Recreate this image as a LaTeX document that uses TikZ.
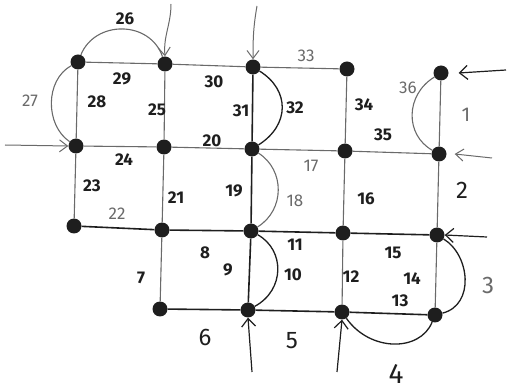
\documentclass[tikz,border=0pt]{standalone}
\usepackage{fontspec}
\setmainfont{Fira Sans}
\usetikzlibrary{arrows.meta}
\definecolor{ink}{HTML}{1E1E1E}
\definecolor{pencil}{HTML}{6A6A6A}
\begin{document}
\begin{tikzpicture}[x=1pt,y=-1pt,
  vtx/.style={circle,fill=ink,inner sep=0pt,minimum size=15pt},
  thick edge/.style={draw=ink,line width=1.6pt},
  thin edge/.style={draw=pencil,line width=1.1pt},
  arc edge/.style={draw=ink,line width=1.3pt},
  inarrow/.style={draw=pencil,line width=1pt,-{Straight Barb[length=8pt,width=12pt]}},
  inarrowk/.style={draw=ink,line width=1.2pt,-{Straight Barb[length=8pt,width=14pt]}},
  lab/.style={font=\fontsize{17}{17}\selectfont\bfseries,text=ink,inner sep=1pt},
  glab/.style={font=\fontsize{17}{17}\selectfont,text=pencil,inner sep=1pt},
  big/.style={font=\fontsize{24}{24}\selectfont}]
\useasboundingbox (0,0) rectangle (507,390);
% vertices
\node[vtx] (a1) at (78,62) {};
\node[vtx] (a2) at (165,64) {};
\node[vtx] (a3) at (253,67) {};
\node[vtx] (a4) at (347,69) {};
\node[vtx] (a5) at (441,73) {};
\node[vtx] (b1) at (76,146) {};
\node[vtx] (b2) at (164,147) {};
\node[vtx] (b3) at (252,149) {};
\node[vtx] (b4) at (345,151) {};
\node[vtx] (b5) at (439,154) {};
\node[vtx] (c1) at (74,226) {};
\node[vtx] (c2) at (162,230) {};
\node[vtx] (c3) at (251,231) {};
\node[vtx] (c4) at (343,233) {};
\node[vtx] (c5) at (437,235) {};
\node[vtx] (d2) at (160,309) {};
\node[vtx] (d3) at (248,310) {};
\node[vtx] (d4) at (342,312) {};
\node[vtx] (d5) at (435,315) {};
% straight edges
\draw[thin edge] (a1) -- (a2);
\draw[thin edge] (a2) -- (a3);
\draw[thin edge] (a3) -- (a4);
\draw[thin edge] (a1) -- (b1);
\draw[thin edge] (a2) -- (b2);
\draw[thick edge] (a3) -- (b3);
\draw[thin edge] (a4) -- (b4);
\draw[thin edge] (a5) -- (b5);
\draw[thin edge] (b1) -- (b2);
\draw[thin edge] (b2) -- (b3);
\draw[thin edge] (b3) -- (b4);
\draw[thin edge] (b4) -- (b5);
\draw[thin edge] (b1) -- (c1);
\draw[thin edge] (b2) -- (c2);
\draw[thick edge] (b3) -- (c3);
\draw[thin edge] (b4) -- (c4);
\draw[thin edge] (b5) -- (c5);
\draw[thick edge] (c1) -- (c2);
\draw[thick edge] (c2) -- (c3);
\draw[thick edge] (c3) -- (c4);
\draw[thick edge] (c4) -- (c5);
\draw[thin edge] (c2) -- (d2);
\draw[thick edge] (c3) -- (d3);
\draw[thin edge] (c4) -- (d4);
\draw[thin edge] (c5) -- (d5);
\draw[thick edge] (d2) -- (d3);
\draw[thick edge] (d3) -- (d4);
\draw[thick edge] (d4) -- (d5);
% arcs
\draw[thin edge] (a1) .. controls (95,20) and (150,20) .. (a2);
\draw[thin edge] (a1) .. controls (45,80) and (45,125) .. (b1);
\draw[arc edge] (a3) .. controls (290,90) and (290,125) .. (b3);
\draw[thin edge] (b3) .. controls (285,170) and (285,210) .. (c3);
\draw[arc edge] (c3) .. controls (285,250) and (285,290) .. (d3);
\draw[thin edge] (a5) .. controls (405,95) and (405,135) .. (b5);
\draw[arc edge] (c5) .. controls (470,255) and (475,305) .. (d5);
\draw[arc edge] (d4) .. controls (370,352) and (420,352) .. (d5);
% input arrows
\coordinate (s1) at (171,4);
\coordinate (s2) at (257,6);
\coordinate (s3) at (506,70);
\coordinate (s4) at (492,158);
\coordinate (s5) at (5,145);
\coordinate (s6) at (487,237);
\coordinate (s7) at (252,372);
\coordinate (s8) at (337,372);
\draw[inarrow] (s1) to[out=-90,in=95] (a2.north);
\draw[inarrow] (s2) to[out=-100,in=90] (a3.north);
\draw[inarrowk] (s3) -- ([xshift=10pt]a5.east);
\draw[inarrow] (s4) -- ([xshift=8pt]b5.east);
\draw[inarrow] (s5) -- (b1.west);
\draw[inarrowk] (s6) -- (c5.east);
\draw[inarrowk] (s7) -- (d3.south);
\draw[inarrowk] (s8) -- (d4.south);
% labels
\node[lab] (l26) at (125,19) {26};
\node[lab] (l29) at (122,79) {29};
\node[lab] (l30) at (214,82) {30};
\node[glab] (l33) at (306,56) {33};
\node[glab] (l27) at (30,101) {27};
\node[lab] (l28) at (97,102) {28};
\node[lab] (l25) at (157,110) {25};
\node[lab] (l31) at (241,111) {31};
\node[lab] (l32) at (295,108) {32};
\node[lab] (l34) at (364,105) {34};
\node[glab] (l36) at (408,88) {36};
\node[lab] (l35) at (383,135) {35};
\node[glab,font=\fontsize{20}{20}\selectfont] (l1) at (466,115) {1};
\node[lab] (l24) at (124,160) {24};
\node[lab] (l20) at (212,141) {20};
\node[glab] (l17) at (311,166) {17};
\node[lab] (l23) at (92,186) {23};
\node[lab] (l21) at (176,198) {21};
\node[lab] (l19) at (234,191) {19};
\node[glab] (l18) at (295,201) {18};
\node[lab] (l16) at (366,199) {16};
\node[lab,font=\fontsize{24}{24}\selectfont] (l2) at (462,190) {2};
\node[glab] (l22) at (117,214) {22};
\node[lab] (l8) at (205,253) {8};
\node[lab] (l9) at (228,270) {9};
\node[lab] (l11) at (295,245) {11};
\node[lab] (l10) at (293,275) {10};
\node[lab] (l12) at (351,277) {12};
\node[lab] (l15) at (393,253) {15};
\node[lab] (l14) at (412,279) {14};
\node[lab] (l13) at (400,301) {13};
\node[glab,big] (l3) at (488,285) {3};
\node[lab] (l7) at (141,278) {7};
\node[lab,big] (l6) at (205,337) {6};
\node[lab,big] (l5) at (292,341) {5};
\node[lab,font=\fontsize{28}{28}\selectfont] (l4) at (396,374) {4};
\end{tikzpicture}
\end{document}
